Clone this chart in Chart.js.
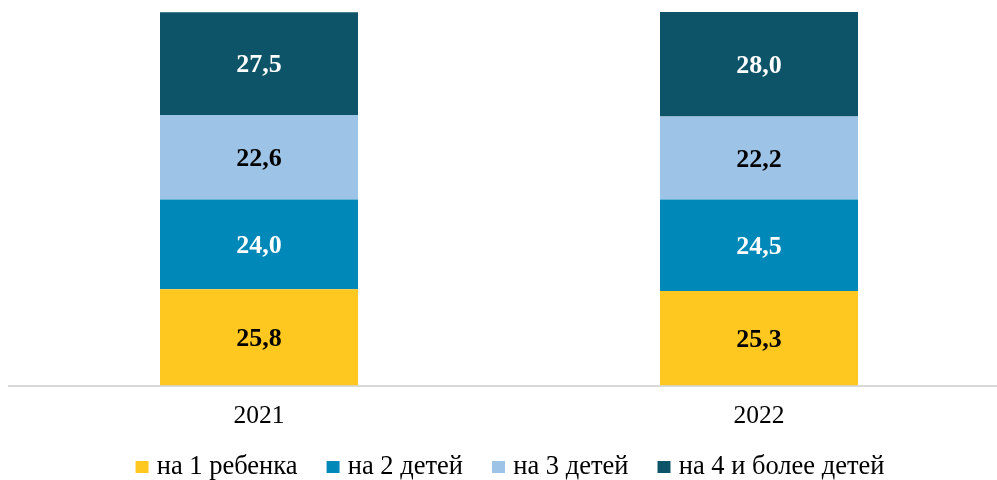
<!DOCTYPE html>
<html>
<head>
<meta charset="utf-8">
<script src="https://cdn.jsdelivr.net/npm/chart.js@4/dist/chart.umd.min.js"></script>
<style>
  html, body { margin: 0; padding: 0; background: #ffffff; overflow: hidden; }
  #wrap { width: 997px; height: 480px; overflow: hidden; position: relative; }
  #box { width: 1018px; height: 490px; position: absolute; left: 0; top: 0; }
</style>
</head>
<body>
<div id="wrap"><div id="box"><canvas id="c"></canvas></div></div>
<script>
// Share of families by number of children, per year (%)
const years = ['2021', '2022'];
const oneChild = [25.8, 25.3];
const twoChildren = [24.0, 24.5];
const threeChildren = [22.6, 22.2];
const fourPlus = [27.5, 28.0];
const seriesNames = ['на 1 ребенка', 'на 2 детей', 'на 3 детей', 'на 4 и более детей'];

const colors = ['#FFC820', '#0088B8', '#9DC3E6', '#0E5468'];
const labelColors = ['#000000', '#ffffff', '#000000', '#ffffff'];
const serif = '"Liberation Serif", "Times New Roman", serif';

// Legend marker: a small filled square sitting at the right of a transparent tile,
// so it lands just before the label text
function legendSquare(color) {
  const c = document.createElement('canvas');
  c.width = 22;
  c.height = 12;
  const g = c.getContext('2d');
  g.fillStyle = color;
  g.fillRect(8, 0, 13, 12);
  return c;
}

// Writes each segment's value in the middle of its bar piece
const segmentLabels = {
  id: 'segmentLabels',
  afterDatasetsDraw(chart) {
    const ctx = chart.ctx;
    ctx.save();
    ctx.font = 'bold 26px ' + serif;
    ctx.textAlign = 'center';
    ctx.textBaseline = 'middle';
    chart.data.datasets.forEach((ds, di) => {
      const meta = chart.getDatasetMeta(di);
      meta.data.forEach((bar, i) => {
        const v = ds.data[i];
        ctx.fillStyle = labelColors[di];
        ctx.fillText(v.toFixed(1).replace('.', ','), bar.x, (bar.y + bar.base) / 2 + 2);
      });
    });
    ctx.restore();
  }
};

new Chart(document.getElementById('c'), {
  type: 'bar',
  data: {
    labels: years,
    datasets: [oneChild, twoChildren, threeChildren, fourPlus].map((d, i) => ({
      label: seriesNames[i],
      data: d,
      backgroundColor: colors[i],
      borderWidth: 0,
      barPercentage: 0.396,
      categoryPercentage: 1.0
    }))
  },
  options: {
    responsive: true,
    maintainAspectRatio: false,
    animation: false,
    layout: { padding: { left: 9, right: 9, top: 12, bottom: 0 } },
    scales: {
      x: {
        stacked: true,
        grid: { display: false, drawTicks: false },
        border: { display: true, color: '#d9d9d9', width: 2 },
        ticks: {
          color: '#000000',
          padding: 15,
          font: { family: serif, size: 25.5, lineHeight: 1.2 }
        },
        // keep the band under the axis compact so the legend sits close to it
        afterFit(scale) { scale.height = 41; }
      },
      y: {
        stacked: true,
        min: 0,
        max: 100,
        display: false
      }
    },
    plugins: {
      legend: {
        position: 'bottom',
        labels: {
          color: '#000000',
          usePointStyle: true,
          pointStyleWidth: 10,
          boxHeight: 12,
          padding: 27,
          font: { family: serif, size: 26.5 },
          generateLabels(chart) {
            const items = Chart.defaults.plugins.legend.labels.generateLabels(chart);
            items.forEach((it, i) => { it.pointStyle = legendSquare(colors[i]); });
            return items;
          }
        }
      },
      tooltip: { enabled: false }
    }
  },
  plugins: [segmentLabels]
});
</script>
</body>
</html>
